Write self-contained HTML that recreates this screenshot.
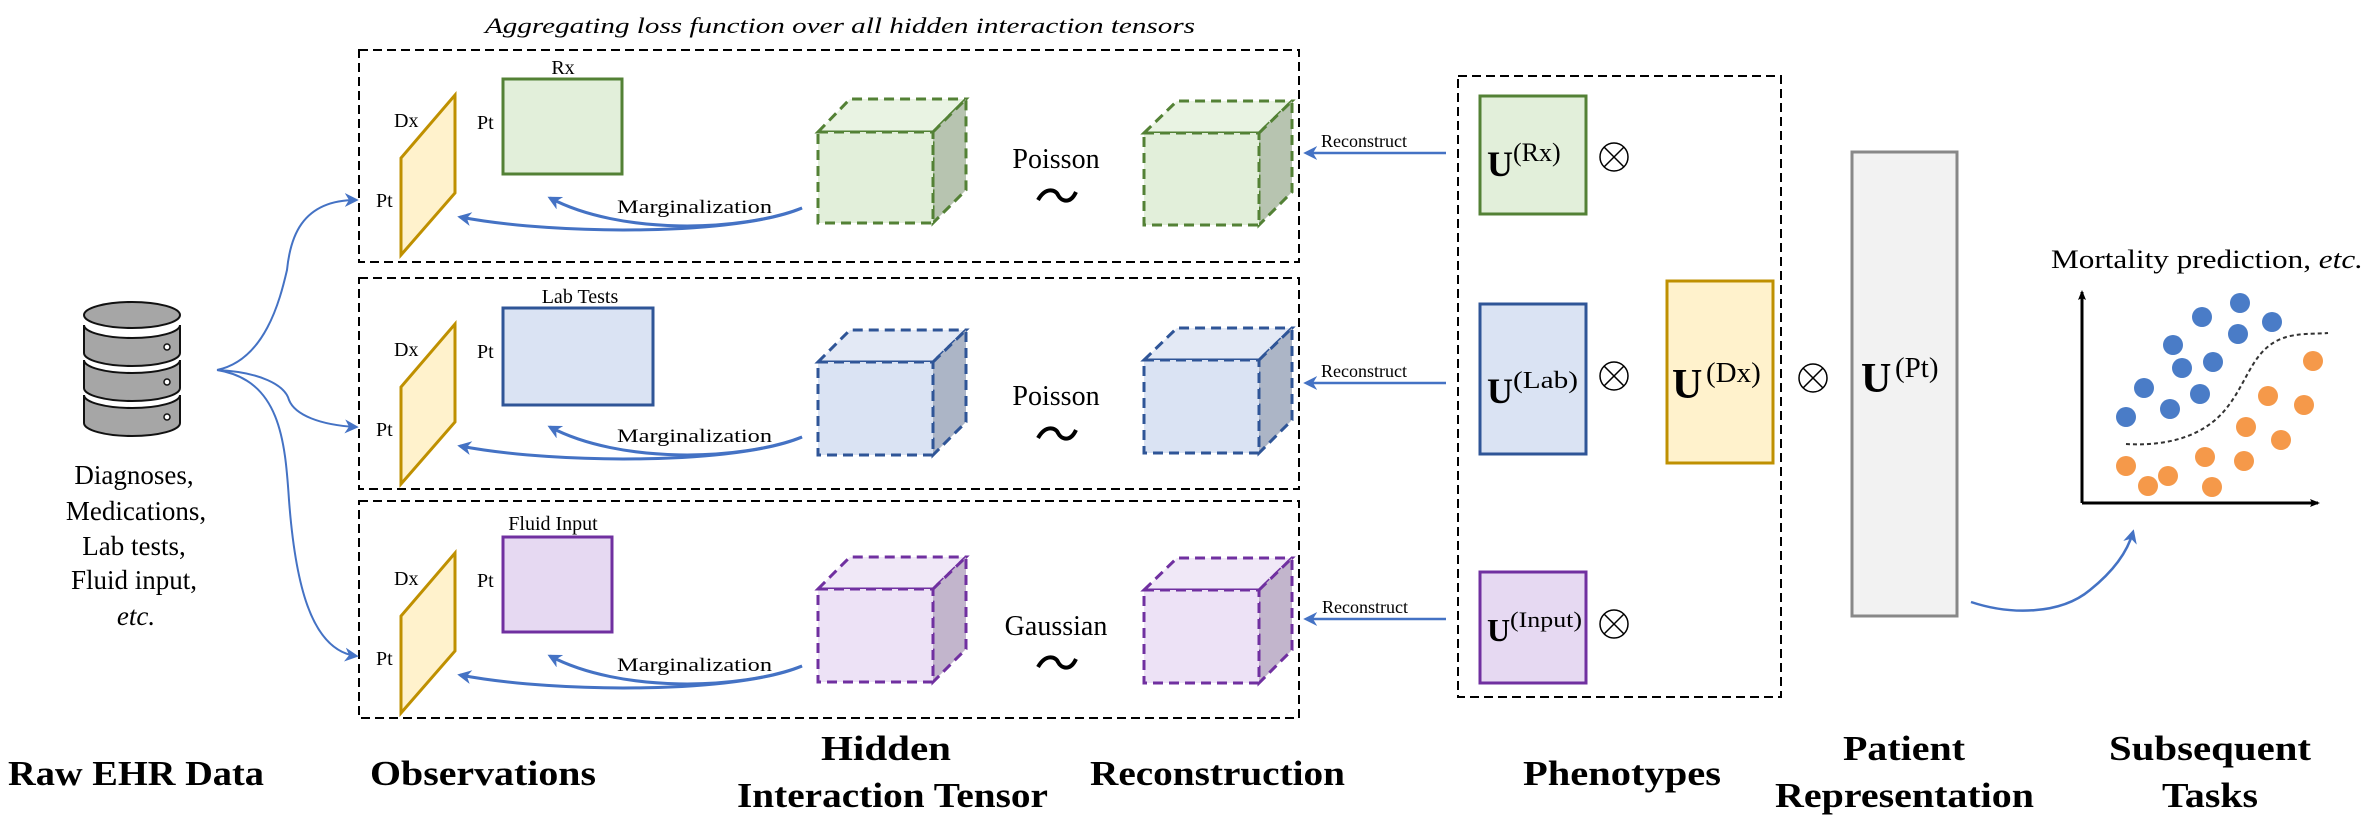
<!DOCTYPE html>
<html><head><meta charset="utf-8"><style>
html,body{margin:0;padding:0;background:#fff;}
svg{display:block;}
text{font-family:"Liberation Serif",serif;fill:#000;}
.b{font-weight:bold;font-size:35px;}
</style></head><body>
<svg width="2374" height="821" viewBox="0 0 2374 821" xmlns="http://www.w3.org/2000/svg">
<defs>
<marker id="ah" viewBox="0 0 10 10" refX="8" refY="5" markerWidth="7" markerHeight="7" orient="auto-start-reverse" markerUnits="userSpaceOnUse">
<path d="M0,0 L10,5 L0,10 L3,5 Z" fill="#4472c4"/></marker>
<marker id="ah2" viewBox="0 0 10 10" refX="8" refY="5" markerWidth="14" markerHeight="14" orient="auto" markerUnits="userSpaceOnUse">
<path d="M0,0 L10,5 L0,10 L3,5 Z" fill="#4472c4"/></marker>
<marker id="ak" viewBox="0 0 10 10" refX="8" refY="5" markerWidth="10" markerHeight="10" orient="auto" markerUnits="userSpaceOnUse">
<path d="M0,1 L10,5 L0,9 L2,5 Z" fill="#000"/></marker>
</defs>

<!-- title -->
<text x="840" y="33" font-size="22" font-style="italic" text-anchor="middle" textLength="710" lengthAdjust="spacingAndGlyphs">Aggregating loss function over all hidden interaction tensors</text>

<!-- dashed boxes -->
<g fill="none" stroke="#000" stroke-width="2" stroke-dasharray="9,5">
<rect x="359" y="50" width="940" height="212"/>
<rect x="359" y="278" width="940" height="211"/>
<rect x="359" y="501" width="940" height="217"/>
<rect x="1458" y="76" width="323" height="621"/>
</g>

<!-- database -->
<g stroke="#111" stroke-width="2" fill="#a6a6a6">
<path d="M84,395 L84,423 A48,13 0 0 0 180,423 L180,395 A48,13 0 0 1 84,395 Z"/>
<path d="M84,360 L84,388 A48,13 0 0 0 180,388 L180,360 A48,13 0 0 1 84,360 Z"/>
<path d="M84,325 L84,353 A48,13 0 0 0 180,353 L180,325 A48,13 0 0 1 84,325 Z"/>
<ellipse cx="132" cy="315" rx="48" ry="13"/>
<g fill="#fff" stroke-width="1.5"><circle cx="167" cy="347" r="3"/><circle cx="167" cy="382" r="3"/><circle cx="167" cy="417" r="3"/></g>
</g>
<g font-size="27" text-anchor="middle">
<text x="134" y="484">Diagnoses,</text>
<text x="136" y="520">Medications,</text>
<text x="134" y="555">Lab tests,</text>
<text x="134" y="589">Fluid input,</text>
<text x="136" y="625" font-style="italic">etc.</text>
</g>

<!-- branch arrows -->
<g fill="none" stroke="#4472c4" stroke-width="2" marker-end="url(#ah2)">
<path d="M217,370 C265,360 280,300 287,270 C290,240 300,200 356,200"/>
<path d="M217,370 C260,372 285,385 289,400 C295,415 320,425 356,427"/>
<path d="M217,370 C280,380 285,440 289,500 C295,580 310,650 356,656"/>
</g>

<!-- rows -->
<g id="row1">
<polygon points="401,255 401,158 455,95 455,193" fill="#fff2cc" stroke="#bf9000" stroke-width="3"/>
<text x="394" y="127" font-size="20">Dx</text>
<text x="376" y="207" font-size="20">Pt</text>
<rect x="503" y="79" width="119" height="95" fill="#e2efda" stroke="#538135" stroke-width="3"/>
<text x="477" y="129" font-size="20">Pt</text>
<text x="563" y="74" font-size="20" text-anchor="middle">Rx</text>
</g>
<g transform="translate(0,229)">
<polygon points="401,255 401,158 455,95 455,193" fill="#fff2cc" stroke="#bf9000" stroke-width="3"/>
<text x="394" y="127" font-size="20">Dx</text>
<text x="376" y="207" font-size="20">Pt</text>
<rect x="503" y="79" width="150" height="97" fill="#dae3f3" stroke="#2f5597" stroke-width="3"/>
<text x="477" y="129" font-size="20">Pt</text>
<text x="580" y="74" font-size="20" text-anchor="middle">Lab Tests</text>
</g>
<g transform="translate(0,458)">
<polygon points="401,255 401,158 455,95 455,193" fill="#fff2cc" stroke="#bf9000" stroke-width="3"/>
<text x="394" y="127" font-size="20">Dx</text>
<text x="376" y="207" font-size="20">Pt</text>
<rect x="503" y="79" width="109" height="95" fill="#e6d9f2" stroke="#7030a0" stroke-width="3"/>
<text x="477" y="129" font-size="20">Pt</text>
<text x="553" y="72" font-size="20" text-anchor="middle">Fluid Input</text>
</g>

<!-- marginalization arrows -->
<g id="marg">
<path d="M802,208 C740,235 560,236 460,217" fill="none" stroke="#4472c4" stroke-width="3" marker-end="url(#ah2)"/>
<path d="M802,208 C740,232 620,235 550,198" fill="none" stroke="#4472c4" stroke-width="3" marker-end="url(#ah2)"/>
<text x="617" y="213" font-size="19" textLength="155" lengthAdjust="spacingAndGlyphs">Marginalization</text>
</g>
<use href="#marg" transform="translate(0,229)"/>
<use href="#marg" transform="translate(0,458)"/>

<!-- cubes -->
<g stroke-width="3" stroke-dasharray="10,6">
<g stroke="#538135">
<path d="M818,132 L850,99 L966,99 L933,132 Z" fill="#e9f3e3"/>
<path d="M933,132 L966,99 L966,190 L933,223 Z" fill="#b7c4b0"/>
<rect x="818" y="132" width="115" height="91" fill="#e2efda"/>
<path d="M1144,133 L1177,101 L1292,101 L1259,133 Z" fill="#e9f3e3"/>
<path d="M1259,133 L1292,101 L1292,192 L1259,225 Z" fill="#b7c4b0"/>
<rect x="1144" y="133" width="115" height="92" fill="#e2efda"/>
</g>
<g stroke="#2f5597">
<path d="M818,362 L850,330 L966,330 L933,362 Z" fill="#e3e9f5"/>
<path d="M933,362 L966,330 L966,422 L933,455 Z" fill="#acb5c6"/>
<rect x="818" y="362" width="115" height="93" fill="#dae3f3"/>
<path d="M1144,360 L1177,328 L1292,328 L1259,360 Z" fill="#e3e9f5"/>
<path d="M1259,360 L1292,328 L1292,420 L1259,453 Z" fill="#acb5c6"/>
<rect x="1144" y="360" width="115" height="93" fill="#dae3f3"/>
</g>
<g stroke="#7030a0">
<path d="M818,589 L850,557 L966,557 L933,589 Z" fill="#f0e8f7"/>
<path d="M933,589 L966,557 L966,649 L933,682 Z" fill="#c2b5cc"/>
<rect x="818" y="589" width="115" height="93" fill="#ede2f6"/>
<path d="M1144,590 L1177,558 L1292,558 L1259,590 Z" fill="#f0e8f7"/>
<path d="M1259,590 L1292,558 L1292,650 L1259,683 Z" fill="#c2b5cc"/>
<rect x="1144" y="590" width="115" height="93" fill="#ede2f6"/>
</g>
</g>

<!-- distributions -->
<g font-size="28" text-anchor="middle">
<text x="1056" y="168">Poisson</text>
<text x="1056" y="405">Poisson</text>
<text x="1056" y="635">Gaussian</text>
</g>
<g fill="none" stroke="#000" stroke-width="4">
<path d="M1038,200 C1046,186 1056,190 1058,195 C1061,201 1070,205 1076,192"/>
<path d="M1038,438 C1046,424 1056,428 1058,433 C1061,439 1070,443 1076,430"/>
<path d="M1038,667 C1046,653 1056,657 1058,662 C1061,668 1070,672 1076,659"/>
</g>

<!-- reconstruct arrows -->
<g stroke="#4472c4" stroke-width="2.5" marker-end="url(#ah2)">
<line x1="1446" y1="153" x2="1306" y2="153"/>
<line x1="1446" y1="383" x2="1306" y2="383"/>
<line x1="1446" y1="619" x2="1306" y2="619"/>
</g>
<g font-size="18">
<text x="1321" y="147">Reconstruct</text>
<text x="1321" y="377">Reconstruct</text>
<text x="1322" y="613">Reconstruct</text>
</g>

<!-- phenotypes -->
<rect x="1480" y="96" width="106" height="118" fill="#e2efda" stroke="#538135" stroke-width="3"/>
<rect x="1480" y="304" width="106" height="150" fill="#dae3f3" stroke="#2f5597" stroke-width="3"/>
<rect x="1480" y="572" width="106" height="111" fill="#e6d9f2" stroke="#7030a0" stroke-width="3"/>
<rect x="1667" y="281" width="106" height="182" fill="#fff2cc" stroke="#bf9000" stroke-width="3"/>
<rect x="1852" y="152" width="105" height="464" fill="#f2f2f2" stroke="#888" stroke-width="3"/>

<g>
<text x="1487" y="176" font-size="36" font-weight="bold">U</text><text x="1513" y="161" font-size="26">(Rx)</text>
<text x="1487" y="403" font-size="36" font-weight="bold">U</text><text x="1513" y="388" font-size="24" textLength="65" lengthAdjust="spacingAndGlyphs">(Lab)</text>
<text x="1487" y="641" font-size="32" font-weight="bold">U</text><text x="1510" y="627" font-size="22" textLength="72" lengthAdjust="spacingAndGlyphs">(Input)</text>
<text x="1672" y="398" font-size="42" font-weight="bold">U</text><text x="1706" y="382" font-size="29">(Dx)</text>
<text x="1861" y="392" font-size="42" font-weight="bold">U</text><text x="1895" y="377" font-size="29">(Pt)</text>
</g>
<g fill="none" stroke="#000" stroke-width="1.5">
<g transform="translate(1614,157)"><circle r="14"/><path d="M-10,-10 L10,10 M-10,10 L10,-10"/></g>
<g transform="translate(1614,376)"><circle r="14"/><path d="M-10,-10 L10,10 M-10,10 L10,-10"/></g>
<g transform="translate(1614,624)"><circle r="14"/><path d="M-10,-10 L10,10 M-10,10 L10,-10"/></g>
<g transform="translate(1813,378)"><circle r="14"/><path d="M-10,-10 L10,10 M-10,10 L10,-10"/></g>
</g>

<!-- curve arrow to tasks -->
<path d="M1971,602 C2010,615 2060,615 2090,590 C2115,570 2128,550 2133,532" fill="none" stroke="#4472c4" stroke-width="2.5" marker-end="url(#ah2)"/>

<!-- chart -->
<text x="2051" y="268" font-size="26" textLength="312" lengthAdjust="spacingAndGlyphs">Mortality prediction, <tspan font-style="italic">etc.</tspan></text>
<g stroke="#000" stroke-width="3" fill="none">
<line x1="2082" y1="503" x2="2082" y2="292" marker-end="url(#ak)"/>
<line x1="2082" y1="503" x2="2318" y2="503" marker-end="url(#ak)"/>
</g>
<path d="M2126,444 C2160,446 2200,440 2225,410 C2250,380 2252,345 2290,336 C2305,333 2318,334 2328,333" fill="none" stroke="#333" stroke-width="2" stroke-dasharray="4,3"/>
<g fill="#4a7cc7">
<circle cx="2126" cy="417" r="10"/><circle cx="2144" cy="388" r="10"/><circle cx="2170" cy="409" r="10"/>
<circle cx="2173" cy="345" r="10"/><circle cx="2182" cy="368" r="10"/><circle cx="2200" cy="394" r="10"/>
<circle cx="2202" cy="317" r="10"/><circle cx="2213" cy="362" r="10"/><circle cx="2238" cy="334" r="10"/>
<circle cx="2240" cy="303" r="10"/><circle cx="2272" cy="322" r="10"/>
</g>
<g fill="#f5994a">
<circle cx="2313" cy="361" r="10"/><circle cx="2268" cy="396" r="10"/><circle cx="2304" cy="405" r="10"/>
<circle cx="2246" cy="427" r="10"/><circle cx="2281" cy="440" r="10"/><circle cx="2205" cy="457" r="10"/>
<circle cx="2244" cy="461" r="10"/><circle cx="2126" cy="466" r="10"/><circle cx="2168" cy="476" r="10"/>
<circle cx="2148" cy="486" r="10"/><circle cx="2212" cy="487" r="10"/>
</g>

<!-- bottom labels -->
<g class="b">
<text class="b" x="8" y="785" textLength="256" lengthAdjust="spacingAndGlyphs">Raw EHR Data</text>
<text class="b" x="370" y="785" textLength="226" lengthAdjust="spacingAndGlyphs">Observations</text>
<text class="b" x="886" y="760" text-anchor="middle" textLength="130" lengthAdjust="spacingAndGlyphs">Hidden</text>
<text class="b" x="737" y="807" textLength="311" lengthAdjust="spacingAndGlyphs">Interaction Tensor</text>
<text class="b" x="1090" y="785" textLength="255" lengthAdjust="spacingAndGlyphs">Reconstruction</text>
<text class="b" x="1523" y="785" textLength="198" lengthAdjust="spacingAndGlyphs">Phenotypes</text>
<text class="b" x="1904" y="760" text-anchor="middle" textLength="122" lengthAdjust="spacingAndGlyphs">Patient</text>
<text class="b" x="1775" y="807" textLength="259" lengthAdjust="spacingAndGlyphs">Representation</text>
<text class="b" x="2109" y="760" textLength="202" lengthAdjust="spacingAndGlyphs">Subsequent</text>
<text class="b" x="2210" y="807" text-anchor="middle" textLength="96" lengthAdjust="spacingAndGlyphs">Tasks</text>
</g>
</svg>
</body></html>
